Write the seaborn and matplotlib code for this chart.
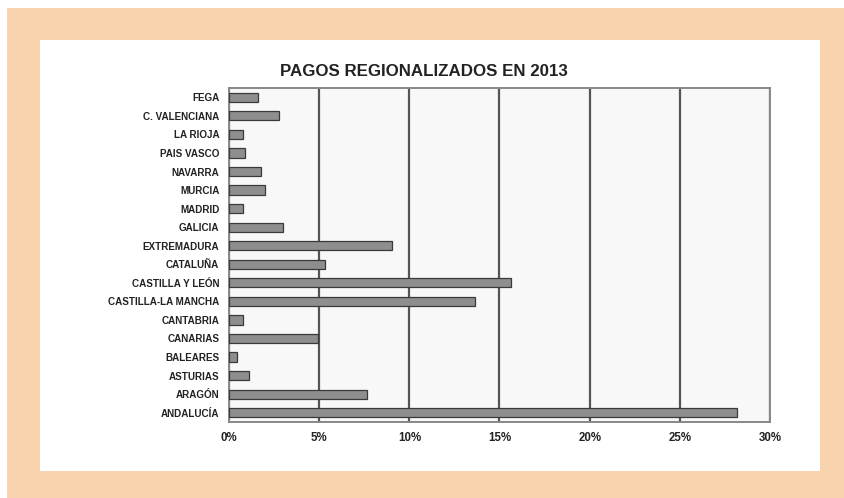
import numpy as np
import pandas as pd
import matplotlib.pyplot as plt
import matplotlib.patches as mpatches
import seaborn as sns
from matplotlib.ticker import FuncFormatter, MultipleLocator, FixedLocator

# datos (porcentaje de pagos)
regiones = ['FEGA', 'C. VALENCIANA', 'LA RIOJA', 'PAIS VASCO', 'NAVARRA', 'MURCIA',
            'MADRID', 'GALICIA', 'EXTREMADURA', 'CATALUÑA', 'CASTILLA Y LEÓN',
            'CASTILLA-LA MANCHA', 'CANTABRIA', 'CANARIAS', 'BALEARES', 'ASTURIAS',
            'ARAGÓN', 'ANDALUCÍA']
porcentajes = [1.6, 2.8, 0.8, 0.9, 1.8, 2.0, 0.75, 3.0, 9.05, 5.3, 15.65,
               13.65, 0.75, 4.95, 0.45, 1.1, 7.65, 28.15]
titulo = 'PAGOS REGIONALIZADOS EN 2013'

df = pd.DataFrame({'Region': regiones, 'Pct': porcentajes})

sns.set_style('white')
plt.rcParams['font.family'] = ['Liberation Sans', 'DejaVu Sans']

fig = plt.figure(figsize=(8.44, 4.98), dpi=100)
W, H = 844, 498
# marco naranja y panel blanco (detras de los ejes)
fig.patches.append(mpatches.Rectangle((7 / W, 0), 1, 1 - 8 / H, transform=fig.transFigure,
                                      facecolor='#f9d3ae', edgecolor='none', zorder=-2))
fig.patches.append(mpatches.Rectangle((40 / W, 1 - 471 / H), 780 / W, 431 / H,
                                      transform=fig.transFigure,
                                      facecolor='white', edgecolor='none', zorder=-1))

ax = fig.add_axes([229 / W, 1 - 422 / H, 541 / W, 334 / H])
ax.set_zorder(2)
ax.set_facecolor('#f8f8f8')

sns.barplot(data=df, x='Pct', y='Region', ax=ax, color='#8e8e8e', width=0.5,
            edgecolor='#3a3a3a', linewidth=0.9, saturation=1, zorder=3)

ax.set_xlim(0, 30)
ax.set_ylim(len(regiones) - 0.5, -0.5)
ax.xaxis.set_major_locator(MultipleLocator(5))
ax.xaxis.set_major_formatter(FuncFormatter(lambda v, p: f'{v:.0f}%'))
ax.grid(axis='x', color='#555555', linewidth=1.6, zorder=1)
ax.set_axisbelow(True)

# marcas entre categorias, estilo excel
ax.yaxis.set_minor_locator(FixedLocator(np.arange(-0.5, len(regiones), 1)))
ax.tick_params(axis='y', which='major', length=0, pad=7)
ax.tick_params(axis='y', which='minor', length=3, color='#666666', width=0.8)
ax.tick_params(axis='x', which='major', length=3, color='#666666', width=0.8, pad=4)

for lab in ax.get_yticklabels():
    lab.set_fontsize(7.1)
    lab.set_fontweight('bold')
    lab.set_color('#222222')
for lab in ax.get_xticklabels():
    lab.set_fontsize(8.3)
    lab.set_fontweight('bold')
    lab.set_color('#222222')

for s in ax.spines.values():
    s.set_color('#888888')
    s.set_linewidth(1.4)

ax.set_xlabel('')
ax.set_ylabel('')
fig.text(424 / W, 1 - 72 / H, titulo, ha='center', va='center', fontsize=12.2,
         fontweight='bold', color='#222222')

fig.savefig('out.png', dpi=100)
